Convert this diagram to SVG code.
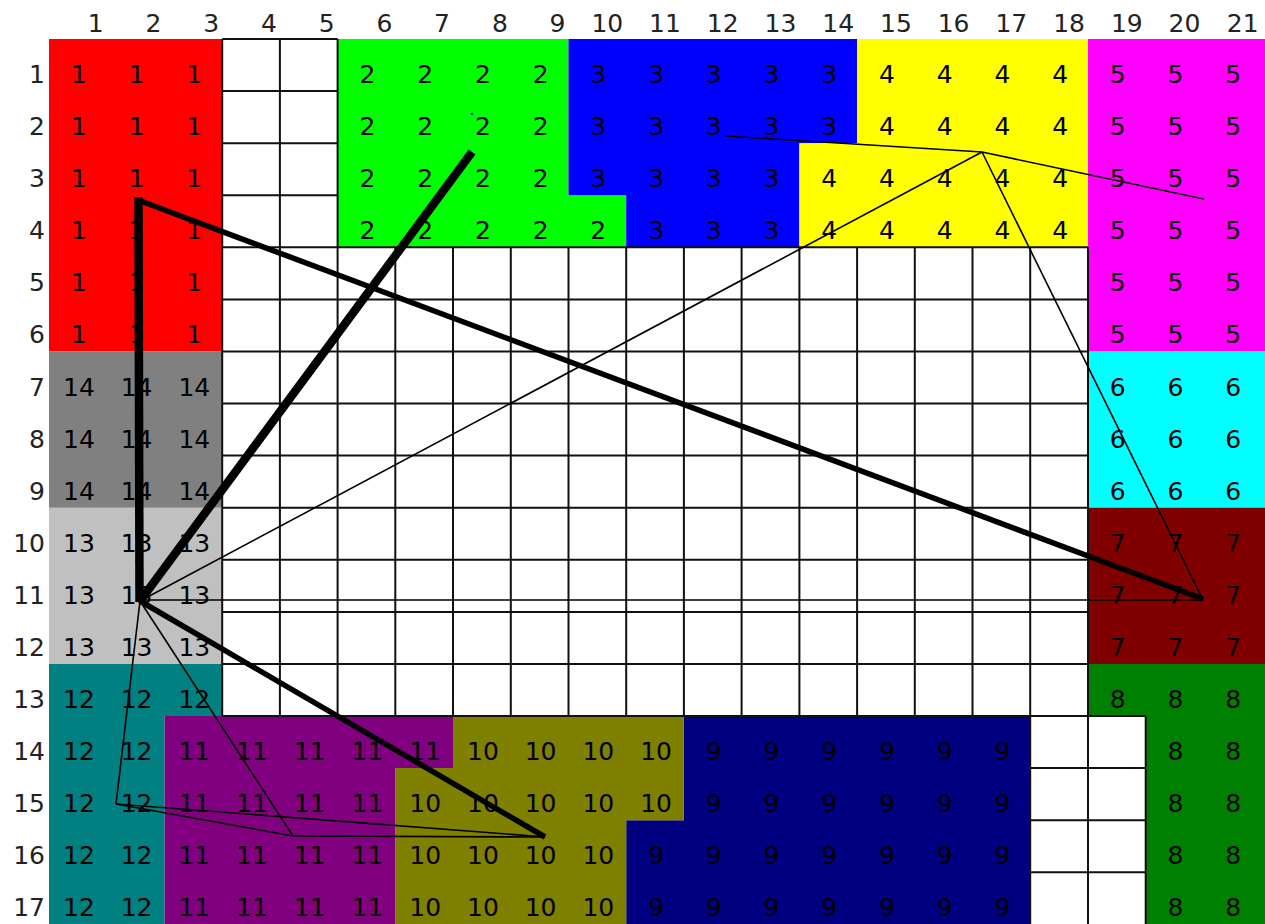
<svg xmlns="http://www.w3.org/2000/svg" width="1265" height="924" viewBox="0 0 1265 924">
<style>
text{font-family:"DejaVu Sans","Liberation Sans",sans-serif;font-size:25px;fill:#000}
.t{text-anchor:middle}
.h{text-anchor:end;fill:#222}
.r{text-anchor:end;fill:#222}
.grid{fill:none;stroke:#111;stroke-width:2}
.thick{stroke:#000;fill:none;stroke-linecap:butt}
.thin{stroke:#000;stroke-width:1.6;fill:none}
</style>
<rect x="0" y="0" width="1265" height="924" fill="#fff"/>

<g id="col-headers">
<text class="h" x="103.7" y="32">1</text><text class="h" x="161.4" y="32">2</text><text class="h" x="219.2" y="32">3</text><text class="h" x="276.9" y="32">4</text><text class="h" x="334.6" y="32">5</text><text class="h" x="392.3" y="32">6</text><text class="h" x="450" y="32">7</text><text class="h" x="507.8" y="32">8</text><text class="h" x="565.5" y="32">9</text><text class="h" x="623.2" y="32">10</text><text class="h" x="680.9" y="32">11</text><text class="h" x="738.6" y="32">12</text><text class="h" x="796.4" y="32">13</text><text class="h" x="854.1" y="32">14</text><text class="h" x="911.8" y="32">15</text><text class="h" x="969.5" y="32">16</text><text class="h" x="1027.2" y="32">17</text><text class="h" x="1085" y="32">18</text><text class="h" x="1142.7" y="32">19</text><text class="h" x="1200.4" y="32">20</text><text class="h" x="1258.6" y="32">21</text>
</g>
<g id="row-labels">
<text class="r" x="45" y="83">1</text><text class="r" x="45" y="135.1">2</text><text class="r" x="45" y="187.2">3</text><text class="r" x="45" y="239.2">4</text><text class="r" x="45" y="291.3">5</text><text class="r" x="45" y="343.4">6</text><text class="r" x="45" y="395.5">7</text><text class="r" x="45" y="447.6">8</text><text class="r" x="45" y="499.6">9</text><text class="r" x="45" y="551.7">10</text><text class="r" x="45" y="603.8">11</text><text class="r" x="45" y="655.9">12</text><text class="r" x="45" y="708">13</text><text class="r" x="45" y="760">14</text><text class="r" x="45" y="812.1">15</text><text class="r" x="45" y="864.2">16</text><text class="r" x="45" y="916.3">17</text>
</g>

<g id="region-1">
<rect x="49" y="39" width="173.2" height="312.5" fill="#FF0000"/>
<text class="t" x="78.9" y="83">1</text><text class="t" x="136.6" y="83">1</text><text class="t" x="194.3" y="83">1</text>
<text class="t" x="78.9" y="135.1">1</text><text class="t" x="136.6" y="135.1">1</text><text class="t" x="194.3" y="135.1">1</text>
<text class="t" x="78.9" y="187.2">1</text><text class="t" x="136.6" y="187.2">1</text><text class="t" x="194.3" y="187.2">1</text>
<text class="t" x="78.9" y="239.2">1</text><text class="t" x="136.6" y="239.2">1</text><text class="t" x="194.3" y="239.2">1</text>
<text class="t" x="78.9" y="291.3">1</text><text class="t" x="136.6" y="291.3">1</text><text class="t" x="194.3" y="291.3">1</text>
<text class="t" x="78.9" y="343.4">1</text><text class="t" x="136.6" y="343.4">1</text><text class="t" x="194.3" y="343.4">1</text>
</g>

<g id="region-2">
<polygon points="337.6,39 568.5,39 568.5,195.2 626.2,195.2 626.2,247.3 337.6,247.3" fill="#00FF00"/>
<text class="t" x="367.5" y="83">2</text><text class="t" x="425.2" y="83">2</text><text class="t" x="482.9" y="83">2</text><text class="t" x="540.6" y="83">2</text>
<text class="t" x="367.5" y="135.1">2</text><text class="t" x="425.2" y="135.1">2</text><text class="t" x="482.9" y="135.1">2</text><text class="t" x="540.6" y="135.1">2</text>
<text class="t" x="367.5" y="187.2">2</text><text class="t" x="425.2" y="187.2">2</text><text class="t" x="482.9" y="187.2">2</text><text class="t" x="540.6" y="187.2">2</text>
<text class="t" x="367.5" y="239.2">2</text><text class="t" x="425.2" y="239.2">2</text><text class="t" x="482.9" y="239.2">2</text><text class="t" x="540.6" y="239.2">2</text><text class="t" x="598.3" y="239.2">2</text>
<circle cx="472" cy="114" r="1.3" fill="#1030ff"/>
</g>

<g id="region-3">
<polygon points="568.5,39 857.1,39 857.1,143.2 799.4,143.2 799.4,247.3 626.2,247.3 626.2,195.2 568.5,195.2" fill="#0000FF"/>
<text class="t" x="598.3" y="83">3</text><text class="t" x="656.1" y="83">3</text><text class="t" x="713.8" y="83">3</text><text class="t" x="771.5" y="83">3</text><text class="t" x="829.2" y="83">3</text>
<text class="t" x="598.3" y="135.1">3</text><text class="t" x="656.1" y="135.1">3</text><text class="t" x="713.8" y="135.1">3</text><text class="t" x="771.5" y="135.1">3</text><text class="t" x="829.2" y="135.1">3</text>
<text class="t" x="598.3" y="187.2">3</text><text class="t" x="656.1" y="187.2">3</text><text class="t" x="713.8" y="187.2">3</text><text class="t" x="771.5" y="187.2">3</text>
<text class="t" x="656.1" y="239.2">3</text><text class="t" x="713.8" y="239.2">3</text><text class="t" x="771.5" y="239.2">3</text>
</g>

<g id="region-4">
<polygon points="857.1,39 1088,39 1088,247.3 799.4,247.3 799.4,143.2 857.1,143.2" fill="#FFFF00"/>
<text class="t" x="886.9" y="83">4</text><text class="t" x="944.7" y="83">4</text><text class="t" x="1002.4" y="83">4</text><text class="t" x="1060.1" y="83">4</text>
<text class="t" x="886.9" y="135.1">4</text><text class="t" x="944.7" y="135.1">4</text><text class="t" x="1002.4" y="135.1">4</text><text class="t" x="1060.1" y="135.1">4</text>
<text class="t" x="829.2" y="187.2">4</text><text class="t" x="886.9" y="187.2">4</text><text class="t" x="944.7" y="187.2">4</text><text class="t" x="1002.4" y="187.2">4</text><text class="t" x="1060.1" y="187.2">4</text>
<text class="t" x="829.2" y="239.2">4</text><text class="t" x="886.9" y="239.2">4</text><text class="t" x="944.7" y="239.2">4</text><text class="t" x="1002.4" y="239.2">4</text><text class="t" x="1060.1" y="239.2">4</text>
</g>

<g id="region-5">
<rect x="1088" y="39" width="177" height="312.5" fill="#FF00FF"/>
<text class="t" x="1117.8" y="83">5</text><text class="t" x="1175.5" y="83">5</text><text class="t" x="1233.3" y="83">5</text>
<text class="t" x="1117.8" y="135.1">5</text><text class="t" x="1175.5" y="135.1">5</text><text class="t" x="1233.3" y="135.1">5</text>
<text class="t" x="1117.8" y="187.2">5</text><text class="t" x="1175.5" y="187.2">5</text><text class="t" x="1233.3" y="187.2">5</text>
<text class="t" x="1117.8" y="239.2">5</text><text class="t" x="1175.5" y="239.2">5</text><text class="t" x="1233.3" y="239.2">5</text>
<text class="t" x="1117.8" y="291.3">5</text><text class="t" x="1175.5" y="291.3">5</text><text class="t" x="1233.3" y="291.3">5</text>
<text class="t" x="1117.8" y="343.4">5</text><text class="t" x="1175.5" y="343.4">5</text><text class="t" x="1233.3" y="343.4">5</text>
</g>

<g id="region-6">
<rect x="1088" y="351.5" width="177" height="156.2" fill="#00FFFF"/>
<text class="t" x="1117.8" y="395.5">6</text><text class="t" x="1175.5" y="395.5">6</text><text class="t" x="1233.3" y="395.5">6</text>
<text class="t" x="1117.8" y="447.6">6</text><text class="t" x="1175.5" y="447.6">6</text><text class="t" x="1233.3" y="447.6">6</text>
<text class="t" x="1117.8" y="499.6">6</text><text class="t" x="1175.5" y="499.6">6</text><text class="t" x="1233.3" y="499.6">6</text>
</g>

<g id="region-7">
<rect x="1088" y="507.7" width="177" height="156.3" fill="#800000"/>
<text class="t" x="1117.8" y="551.7">7</text><text class="t" x="1175.5" y="551.7">7</text><text class="t" x="1233.3" y="551.7">7</text>
<text class="t" x="1117.8" y="603.8">7</text><text class="t" x="1175.5" y="603.8">7</text><text class="t" x="1233.3" y="603.8">7</text>
<text class="t" x="1117.8" y="655.9">7</text><text class="t" x="1175.5" y="655.9">7</text><text class="t" x="1233.3" y="655.9">7</text>
</g>

<g id="region-8">
<polygon points="1088,664 1265,664 1265,924 1145.7,924 1145.7,716 1088,716" fill="#008000"/>
<text class="t" x="1117.8" y="708">8</text><text class="t" x="1175.5" y="708">8</text><text class="t" x="1233.3" y="708">8</text>
<text class="t" x="1175.5" y="760">8</text><text class="t" x="1233.3" y="760">8</text>
<text class="t" x="1175.5" y="812.1">8</text><text class="t" x="1233.3" y="812.1">8</text>
<text class="t" x="1175.5" y="864.2">8</text><text class="t" x="1233.3" y="864.2">8</text>
<text class="t" x="1175.5" y="916.3">8</text><text class="t" x="1233.3" y="916.3">8</text>
</g>

<g id="region-9">
<polygon points="683.9,716 1030.2,716 1030.2,924 626.2,924 626.2,820.2 683.9,820.2" fill="#000080"/>
<text class="t" x="713.8" y="760">9</text><text class="t" x="771.5" y="760">9</text><text class="t" x="829.2" y="760">9</text><text class="t" x="886.9" y="760">9</text><text class="t" x="944.7" y="760">9</text><text class="t" x="1002.4" y="760">9</text>
<text class="t" x="713.8" y="812.1">9</text><text class="t" x="771.5" y="812.1">9</text><text class="t" x="829.2" y="812.1">9</text><text class="t" x="886.9" y="812.1">9</text><text class="t" x="944.7" y="812.1">9</text><text class="t" x="1002.4" y="812.1">9</text>
<text class="t" x="656.1" y="864.2">9</text><text class="t" x="713.8" y="864.2">9</text><text class="t" x="771.5" y="864.2">9</text><text class="t" x="829.2" y="864.2">9</text><text class="t" x="886.9" y="864.2">9</text><text class="t" x="944.7" y="864.2">9</text><text class="t" x="1002.4" y="864.2">9</text>
<text class="t" x="656.1" y="916.3">9</text><text class="t" x="713.8" y="916.3">9</text><text class="t" x="771.5" y="916.3">9</text><text class="t" x="829.2" y="916.3">9</text><text class="t" x="886.9" y="916.3">9</text><text class="t" x="944.7" y="916.3">9</text><text class="t" x="1002.4" y="916.3">9</text>
</g>

<g id="region-10">
<polygon points="453,716 683.9,716 683.9,820.2 626.2,820.2 626.2,924 395.3,924 395.3,768.1 453,768.1" fill="#808000"/>
<text class="t" x="482.9" y="760">10</text><text class="t" x="540.6" y="760">10</text><text class="t" x="598.3" y="760">10</text><text class="t" x="656.1" y="760">10</text>
<text class="t" x="425.2" y="812.1">10</text><text class="t" x="482.9" y="812.1">10</text><text class="t" x="540.6" y="812.1">10</text><text class="t" x="598.3" y="812.1">10</text><text class="t" x="656.1" y="812.1">10</text>
<text class="t" x="425.2" y="864.2">10</text><text class="t" x="482.9" y="864.2">10</text><text class="t" x="540.6" y="864.2">10</text><text class="t" x="598.3" y="864.2">10</text>
<text class="t" x="425.2" y="916.3">10</text><text class="t" x="482.9" y="916.3">10</text><text class="t" x="540.6" y="916.3">10</text><text class="t" x="598.3" y="916.3">10</text>
</g>

<g id="region-11">
<polygon points="164.4,716 453,716 453,768.1 395.3,768.1 395.3,924 164.4,924" fill="#800080"/>
<text class="t" x="194.3" y="760">11</text><text class="t" x="252" y="760">11</text><text class="t" x="309.7" y="760">11</text><text class="t" x="367.5" y="760">11</text><text class="t" x="425.2" y="760">11</text>
<text class="t" x="194.3" y="812.1">11</text><text class="t" x="252" y="812.1">11</text><text class="t" x="309.7" y="812.1">11</text><text class="t" x="367.5" y="812.1">11</text>
<text class="t" x="194.3" y="864.2">11</text><text class="t" x="252" y="864.2">11</text><text class="t" x="309.7" y="864.2">11</text><text class="t" x="367.5" y="864.2">11</text>
<text class="t" x="194.3" y="916.3">11</text><text class="t" x="252" y="916.3">11</text><text class="t" x="309.7" y="916.3">11</text><text class="t" x="367.5" y="916.3">11</text>
</g>

<g id="region-12">
<polygon points="49,664 222.2,664 222.2,716 164.4,716 164.4,924 49,924" fill="#008080"/>
<text class="t" x="78.9" y="708">12</text><text class="t" x="136.6" y="708">12</text><text class="t" x="194.3" y="708">12</text>
<text class="t" x="78.9" y="760">12</text><text class="t" x="136.6" y="760">12</text>
<text class="t" x="78.9" y="812.1">12</text><text class="t" x="136.6" y="812.1">12</text>
<text class="t" x="78.9" y="864.2">12</text><text class="t" x="136.6" y="864.2">12</text>
<text class="t" x="78.9" y="916.3">12</text><text class="t" x="136.6" y="916.3">12</text>
</g>

<g id="region-13">
<rect x="49" y="507.7" width="173.2" height="156.3" fill="#C0C0C0"/>
<text class="t" x="78.9" y="551.7">13</text><text class="t" x="136.6" y="551.7">13</text><text class="t" x="194.3" y="551.7">13</text>
<text class="t" x="78.9" y="603.8">13</text><text class="t" x="136.6" y="603.8">13</text><text class="t" x="194.3" y="603.8">13</text>
<text class="t" x="78.9" y="655.9">13</text><text class="t" x="136.6" y="655.9">13</text><text class="t" x="194.3" y="655.9">13</text>
</g>

<g id="region-14">
<rect x="49" y="351.5" width="173.2" height="156.2" fill="#808080"/>
<text class="t" x="78.9" y="395.5">14</text><text class="t" x="136.6" y="395.5">14</text><text class="t" x="194.3" y="395.5">14</text>
<text class="t" x="78.9" y="447.6">14</text><text class="t" x="136.6" y="447.6">14</text><text class="t" x="194.3" y="447.6">14</text>
<text class="t" x="78.9" y="499.6">14</text><text class="t" x="136.6" y="499.6">14</text><text class="t" x="194.3" y="499.6">14</text>
</g>

<g id="empty-grid">
<path class="grid" d="M222.2 39V247.3M279.9 39V247.3M337.6 39V247.3M222.2 39H337.6M222.2 91.1H337.6M222.2 143.2H337.6M222.2 195.2H337.6
M222.2 247.3V716M279.9 247.3V716M337.6 247.3V716M395.3 247.3V716M453 247.3V716M510.8 247.3V716M568.5 247.3V716M626.2 247.3V716M683.9 247.3V716M741.6 247.3V716M799.4 247.3V716M857.1 247.3V716M914.8 247.3V716M972.5 247.3V716M1030.2 247.3V716M1088 247.3V716
M222.2 247.3H1088M222.2 299.4H1088M222.2 351.5H1088M222.2 403.6H1088M222.2 455.6H1088M222.2 507.7H1088M222.2 559.8H1088M222.2 611.9H1088M222.2 664H1088M222.2 716H1145.7
M1030.2 716V924M1088 716V924M1145.7 716V924M1030.2 768.1H1145.7M1030.2 820.2H1145.7M1030.2 872.3H1145.7"/>
</g>

<g id="connectors">
<line class="thin" x1="140" y1="601" x2="982" y2="152"/>
<line class="thin" x1="725" y1="136" x2="982" y2="152"/>
<line class="thin" x1="982" y1="152" x2="1204" y2="199"/>
<line class="thin" x1="982" y1="152" x2="1203" y2="600"/>
<line class="thin" x1="140" y1="600" x2="1203" y2="600"/>
<line class="thin" x1="140" y1="601" x2="116" y2="804"/>
<line class="thin" x1="140" y1="601" x2="293" y2="836"/>
<line class="thin" x1="116" y1="804" x2="293" y2="836"/>
<line class="thin" x1="116" y1="804" x2="545" y2="837"/>
<line class="thin" x1="293" y1="836" x2="545" y2="837"/>
<line class="thick" x1="138.5" y1="197" x2="139.5" y2="602" stroke-width="8.5"/>
<line class="thick" x1="138" y1="200" x2="1203" y2="599" stroke-width="5.5"/>
<line class="thick" x1="140" y1="601" x2="472" y2="152" stroke-width="8.5"/>
<line class="thick" x1="140" y1="601" x2="545" y2="837" stroke-width="5.5"/>
</g>
</svg>
